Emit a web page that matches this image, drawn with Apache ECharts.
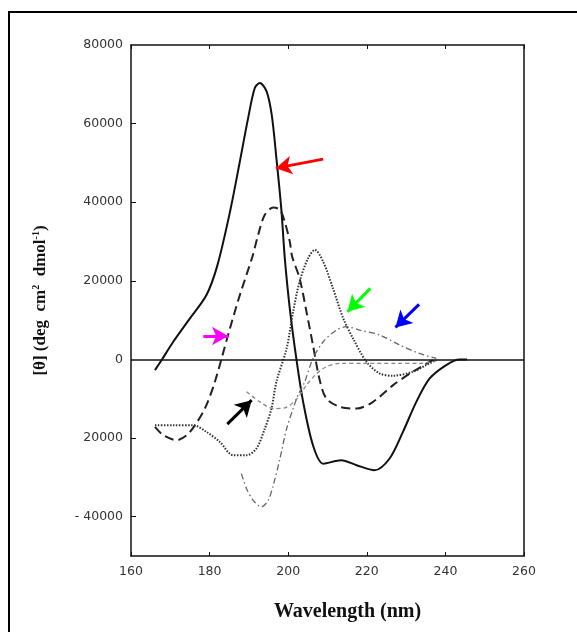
<!DOCTYPE html>
<html>
<head>
<meta charset="utf-8">
<script src="https://cdn.jsdelivr.net/npm/echarts@6/dist/echarts.min.js"></script>
<style>html,body{margin:0;padding:0;background:#fff}#c{width:577px;height:632px}</style>
</head>
<body>
<div id="c"></div>
<script>
// ---- data (wavelength nm, [theta]) ----
const solidCurve = [[166.1,-2700],[167.8,-150],[170.75,4500],[175.0,10450],[179.2,16400],[182.0,24000],[185.2,37630],[187.7,50370],[189.8,61400],[191.5,69050],[192.8,70320],[194.5,68200],[195.8,62270],[197.0,51210],[198.3,37630],[199.1,26170],[200.4,13000],[202.1,0],[203.8,-10780],[206.3,-21800],[208.9,-26500],[213.5,-25630],[217.4,-26900],[222.0,-28180],[225.8,-25200],[229.2,-18420],[232.6,-10780],[236.0,-4840],[240.2,-1430],[243.6,0],[245.5,0]];
const longDashCurve = [[166.1,-17150],[168.2,-19260],[171.6,-20540],[174.2,-19260],[176.3,-16710],[178.8,-12490],[181.35,-5680],[184.7,6220],[187.7,16410],[190.9,26170],[192.35,31700],[194.05,36790],[196.2,38650],[197.9,38070],[199.1,35090],[200.4,29990],[201.0,26170],[202.9,20640],[204.65,12150],[206.3,3670],[208.0,-5170],[209.7,-9940],[213.1,-12050],[217.4,-12490],[221.6,-10780],[226.7,-6520],[231.7,-3130],[236.8,-150]];
const dottedCurve = [[166.1,-16710],[170.75,-16710],[175.8,-16710],[179.2,-18420],[182.6,-20970],[186.0,-24360],[189.4,-24360],[191.9,-22680],[194.05,-17580],[195.75,-12490],[197.0,-5680],[199.6,2800],[201.25,12150],[202.9,19800],[205.05,25730],[206.8,27880],[208.9,24890],[211.4,18090],[214.0,10450],[216.5,5350],[219.9,-590],[223.3,-3570],[226.6,-4150],[231.7,-3130],[235.1,-1430],[237.7,-150]];
const dashDotCurve = [[188.1,-29050],[189.4,-32870],[191.1,-35830],[193.2,-37530],[194.9,-35830],[196.2,-32000],[197.9,-25220],[199.6,-17580],[201.25,-12490],[202.5,-9070],[204.2,-5680],[206.3,250],[208.9,4510],[212.3,7490],[214.8,8330],[218.2,7490],[223.3,6220],[228.4,3670],[233.4,1530],[237.7,250]];
const fineDashCurve = [[189.4,-8230],[192.8,-10780],[196.2,-12490],[199.1,-12300],[202.1,-10140],[204.65,-6520],[207.2,-3640],[209.7,-1860],[213.1,-1020],[219.05,-1020],[227.55,-1020],[233.4,-1020],[237.7,-330]];

const xTicks = [160,180,200,220,240,260];
const yTickValues = [80000,60000,40000,20000,0,-20000,-40000];
const yTickLabels = ['80000','60000','40000','20000','0','20000','- 40000'];

const arrowFrom = [[208.9,50960],[178.4,5960],[220.9,18090],[233.3,14010],[184.5,-16460]];
const arrowTo   = [[196.85,48670],[184.7,5960],[215.1,12150],[227.3,8150],[190.7,-10350]];
const arrowColors = ['#ff0000','#ff00ff','#00ff00','#0000ff','#000000'];

// ---- chart ----
const chart = echarts.init(document.getElementById('c'), null, {renderer:'canvas'});
const lblFont = {color:'#333', fontFamily:'DejaVu Sans, Verdana, sans-serif', fontSize:12.5};

const arrowLines = arrowFrom.map((f,i)=>[
  {coord:f, lineStyle:{color:arrowColors[i], width:3, type:'solid'}},
  {coord:arrowTo[i]}
]);

function lineSeries(data, style, extra){
  return Object.assign({type:'line', data:data, smooth:0.3, symbol:'none', lineStyle:style, z:3, animation:false}, extra||{});
}

chart.setOption({
  animation:false,
  graphic:[{type:'rect', shape:{x:9,y:12,width:700,height:800}, style:{fill:'none', stroke:'#000', lineWidth:2}, z:-1}],
  grid:{left:131, top:45, right:53, bottom:76},
  xAxis:[{
    type:'value', min:160, max:260, interval:20, position:'bottom',
    axisLine:{onZero:false, lineStyle:{color:'#111', width:1.5}},
    axisTick:{inside:true, length:4, lineStyle:{color:'#111'}},
    axisLabel:Object.assign({margin:9, customValues:xTicks}, lblFont),
    splitLine:{show:false},
    name:'Wavelength (nm)', nameLocation:'middle', nameGap:46,
    nameTextStyle:{fontFamily:'Liberation Serif, Times New Roman, serif', fontWeight:'bold', fontSize:20, color:'#111', padding:[0,0,0,40]}
  },{
    type:'value', min:160, max:260, interval:20, position:'top',
    axisLine:{onZero:false, lineStyle:{color:'#111', width:1.5}},
    axisTick:{inside:true, length:4, lineStyle:{color:'#111'}},
    axisLabel:{show:false}, splitLine:{show:false}
  }],
  yAxis:[{
    type:'value', min:-50000, max:80000, interval:10000, position:'left',
    axisLine:{onZero:false, lineStyle:{color:'#111', width:1.5}},
    axisTick:{inside:true, length:5, customValues:[60000,40000,20000,-20000,-40000], lineStyle:{color:'#111'}},
    axisLabel:Object.assign({margin:8, customValues:yTickValues, formatter:function(v){const i=yTickValues.indexOf(v);return i>=0?yTickLabels[i]:'';}}, lblFont),
    splitLine:{show:false},
    name:'[θ] (deg  cm{sup|2}  dmol{sup|-1})', nameLocation:'middle', nameGap:81, nameRotate:90,
    nameTextStyle:{fontFamily:'Liberation Serif, Times New Roman, serif', fontWeight:'bold', fontSize:17, color:'#111',
      rich:{sup:{fontFamily:'Liberation Serif, Times New Roman, serif', fontWeight:'bold', fontSize:10, color:'#111', padding:[0,0,9,0]}}}
  },{
    type:'value', min:-50000, max:80000, interval:10000, position:'right',
    axisLine:{onZero:false, lineStyle:{color:'#111', width:1.5}},
    axisTick:{show:false}, axisLabel:{show:false}, splitLine:{show:false}
  }],
  series:[
    lineSeries(solidCurve, {color:'#111', width:2, type:'solid'}, {
      markLine:{silent:true, symbol:'none', label:{show:false}, animation:false,
        lineStyle:{color:'#111', width:1.5, type:'solid'},
        data:[[{coord:[160,0]},{coord:[260,0]}]]}
    }),
    lineSeries(longDashCurve, {color:'#222', width:2, type:[9,5]}),
    lineSeries(dottedCurve, {color:'#333', width:2, type:[1.5,1.5]}),
    lineSeries(dashDotCurve, {color:'#666', width:1.3, type:[6,3,1.5,3]}),
    lineSeries(fineDashCurve, {color:'#888', width:1.3, type:[4,3]}),
    {type:'line', data:[], markLine:{silent:true, symbol:['none','arrow'], symbolSize:[14,16], label:{show:false}, animation:false, data:arrowLines}, z:5}
  ]
});
</script>
</body>
</html>
